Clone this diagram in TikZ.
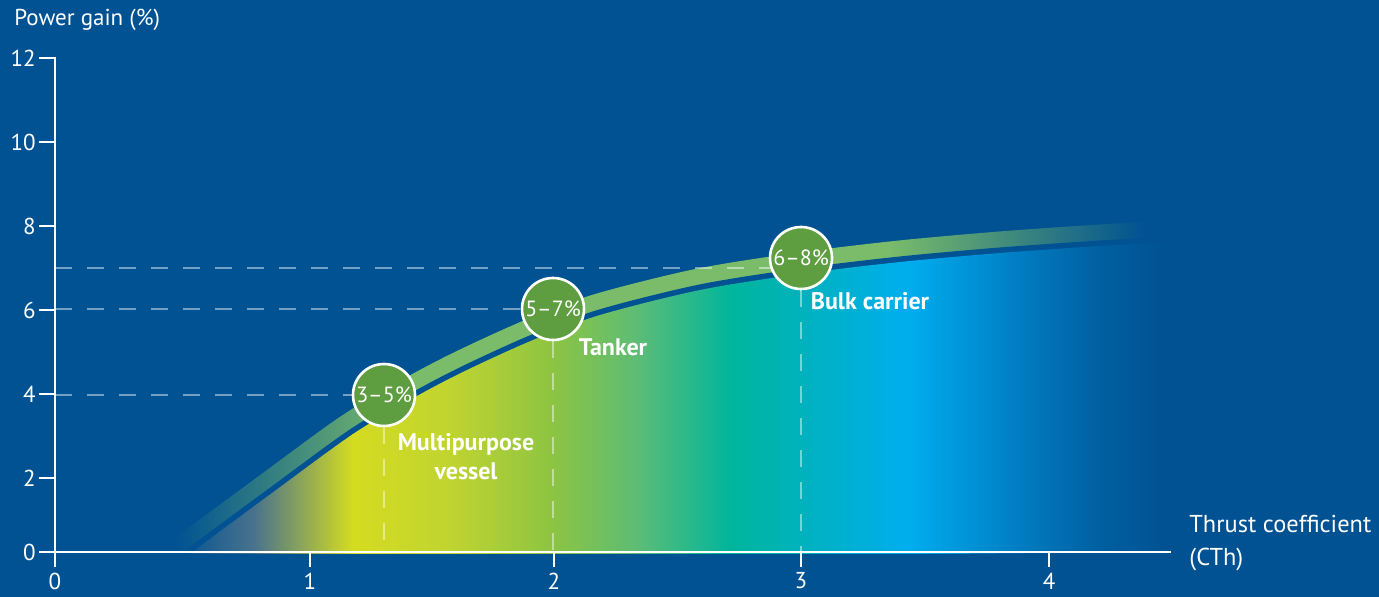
\documentclass[tikz,border=0pt]{standalone}
\usepackage{fontspec}
\setmainfont{PT Sans}
\usepackage{tikz}
\usetikzlibrary{fadings}

\definecolor{bgblue}{RGB}{0,82,147}
\definecolor{bandgreen}{RGB}{122,188,106}
\definecolor{dotgreen}{RGB}{94,158,64}
\definecolor{fillA}{RGB}{75,115,140}
\definecolor{fillB}{RGB}{212,220,32}
\definecolor{fillC}{RGB}{192,212,48}
\definecolor{fillD}{RGB}{140,196,66}
\definecolor{fillE}{RGB}{90,188,120}
\definecolor{fillF}{RGB}{0,181,156}
\definecolor{fillG}{RGB}{0,174,239}
\definecolor{fillH}{RGB}{0,128,198}
\definecolor{fillI}{RGB}{0,95,160}

\tikzfading[name=fadeleft, left color=transparent!0, right color=transparent!100]
\tikzfading[name=faderight, left color=transparent!100, right color=transparent!0]

\begin{document}
\begin{tikzpicture}
    [x=0.5pt,y=-0.5pt,
     axis/.style={white,line width=1.3pt,line cap=rect},
     guide/.style={white,opacity=.45,line width=.7pt,dash pattern=on 8.5pt off 7.5pt},
     ticklbl/.style={text=white,font=\fontsize{11.5}{16.5}\selectfont,inner sep=0pt},
     dot/.style={circle,fill=dotgreen,draw=white,line width=1.3pt,minimum size=31pt,inner sep=0pt,text=white,font=\fontsize{11}{13}\selectfont},
     kind/.style={text=white,font=\fontsize{12}{14.5}\selectfont\bfseries,align=center}]
    \fill[bgblue] (0,0) rectangle (1379,597);

    % band above the curve
    \begin{scope}
        \clip (0,0) rectangle (1379,552);
        \foreach \w/\c in {21.5pt/bandgreen,5.5pt/bgblue}
            \draw[\c,line width=\w] plot[smooth] coordinates {(180,561) (192,552) (272,493) (353,434) (417,396) (467,370) (533,340) (600,315) (700,290) (800,274) (900,262) (1000,253) (1100,246) (1160,243)};
    \end{scope}
    \fill[bgblue] (140,440) rectangle (176,552);
    \fill[bgblue,path fading=fadeleft] (175,380) rectangle (400,552);
    \fill[bgblue,path fading=faderight] (890,200) rectangle (1145,300);
    \fill[bgblue] (1144,200) rectangle (1180,300);

    % area under the curve
    \begin{scope}
        \clip plot[smooth] coordinates {(180,561) (192,552) (272,493) (353,434) (417,396) (467,370) (533,340) (600,315) (700,290) (800,274) (900,262) (1000,253) (1100,246) (1160,243)} -- (1160,552) -- cycle;
        \foreach \xa/\xb/\ca/\cb in {175/255/bgblue/fillA,255/352/fillA/fillB,352/450/fillB/fillC,450/553/fillC/fillD,553/640/fillD/fillE,640/730/fillE/fillF,730/908/fillF/fillG,908/1010/fillG/fillH,1010/1100/fillH/fillI,1100/1165/fillI/bgblue}
            \shade[left color=\ca,right color=\cb] (\xa,200) rectangle (\xb+1,553);
    \end{scope}

    \coordinate (o) at (55,552);
    \coordinate (g7) at (55,268);
    \coordinate (p1) at (384,395);
    \coordinate (p2) at (553,309);
    \coordinate (p3) at (801,258);

    % guides
    \draw[guide] (o |- p1) -- (p1);
    \draw[guide] (o |- p2) -- (p2);
    \draw[guide] (g7) -- (g7 -| p3);
    \draw[guide] (p1) -- (p1 |- o);
    \draw[guide] (p2) -- (p2 |- o);
    \draw[guide] (p3) -- (p3 |- o);

    \node[dot] (c1) at (p1) {3--5\%};
    \node[dot] (c2) at (p2) {5--7\%};
    \node[dot] (c3) at (p3) {6--8\%};

    % axes
    \draw[axis] (40,552) -- (1170,552);
    \draw[axis] (55,58) -- (55,566);
    \foreach \y/\v in {58/12,142/10,226/8,310/6,394/4,478/2} {
        \draw[axis] (40,\y) -- (55,\y);
        \node[ticklbl,anchor=east] (y\v) at (36,\y) {\v};
    }
    \node[ticklbl,anchor=east] (y0) at (36,552) {0};
    \foreach \x/\v in {55/0,310/1,554/2,801/3,1049/4} {
        \draw[axis] (\x,552) -- (\x,566);
        \node[ticklbl] (x\v) at (\x,581) {\v};
    }
    \node[ticklbl,anchor=west] (ytitle) at (14,20) {Power gain (\%)};
    \node[ticklbl,anchor=west,align=left,font=\fontsize{12.2}{16.5}\selectfont] (xtitle) at (1189,543) {Thrust coefficient\\(CTh)};

    \node[kind] (mpv) at (466,457) {Multipurpose\\vessel};
    \node[kind] (tk) at (613,347) {Tanker};
    \node[kind] (bc) at (870,301) {Bulk carrier};
\end{tikzpicture}
\end{document}
